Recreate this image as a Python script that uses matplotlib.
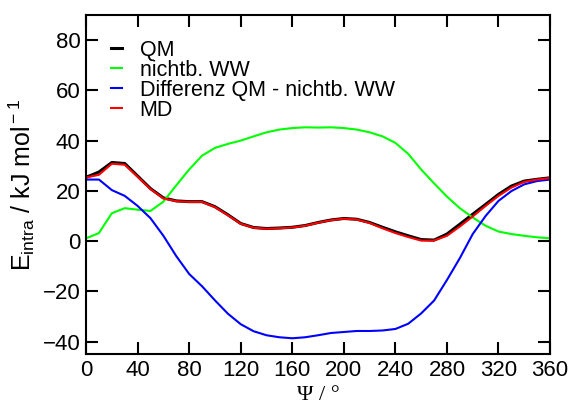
import matplotlib
matplotlib.use("Agg")
import matplotlib.pyplot as plt

plt.rcParams['font.family'] = ['Liberation Sans', 'DejaVu Sans']
plt.rcParams['mathtext.fontset'] = 'custom'
plt.rcParams['mathtext.rm'] = 'Liberation Sans'
plt.rcParams['mathtext.it'] = 'Liberation Sans'

# dihedral angle psi in degrees, 10 degree steps
psi = list(range(0, 361, 10))

qm = [25.4, 27.5, 31.3, 30.9, 25.9, 20.9, 17.2, 16.0, 15.7, 15.7,
      13.7, 10.5, 7.0, 5.4, 5.0, 5.2, 5.5, 6.2, 7.4, 8.4,
      9.0, 8.7, 7.4, 5.5, 3.7, 2.1, 0.6, 0.4, 2.8, 6.7,
      10.7, 14.6, 18.6, 21.9, 23.9, 24.6, 25.2]

nonbonded = [1.1, 3.2, 11.1, 13.1, 12.5, 12.0, 15.7, 22.2, 28.5, 34.0,
             37.1, 38.7, 40.0, 41.7, 43.3, 44.4, 45.0, 45.3, 45.2, 45.3,
             45.0, 44.4, 43.3, 41.7, 39.1, 34.7, 28.5, 23.0, 17.7, 13.1,
             9.4, 6.1, 3.8, 2.8, 2.1, 1.5, 1.1]

difference = [24.5, 24.5, 20.3, 18.0, 14.0, 9.1, 2.1, -6.0, -13.1, -18.0,
              -23.6, -28.9, -33.1, -35.9, -37.5, -38.3, -38.7, -38.3, -37.5, -36.6,
              -36.2, -35.8, -35.8, -35.6, -35.0, -32.9, -28.8, -23.7, -15.5, -6.8,
              2.8, 10.0, 16.0, 19.9, 22.6, 23.9, 24.5]

md = [25.3, 26.4, 30.8, 30.4, 25.6, 20.7, 17.0, 15.9, 15.6, 15.6,
      13.5, 10.3, 6.9, 5.3, 4.9, 5.1, 5.4, 6.1, 7.3, 8.3,
      8.9, 8.6, 7.2, 5.1, 3.2, 1.6, 0.2, 0.2, 2.1, 5.8,
      9.8, 14.0, 18.0, 21.3, 23.6, 24.5, 25.1]

fig = plt.figure(figsize=(5.7, 4.07), dpi=100)
ax = fig.add_axes([0.151, 0.130, 0.814, 0.833])

ax.plot(psi, qm, color='black', lw=2.2, label='QM')
ax.plot(psi, nonbonded, color='#00ff00', lw=1.5, label='nichtb. WW')
ax.plot(psi, difference, color='#0000ff', lw=1.5, label='Differenz QM - nichtb. WW')
ax.plot(psi, md, color='#ff0000', lw=1.5, label='MD')

ax.set_xlim(0, 360)
ax.set_ylim(-45, 90)
ax.set_xticks(range(0, 361, 40))
ax.set_yticks(range(-40, 81, 20))

for s in ax.spines.values():
    s.set_linewidth(1.5)
ax.tick_params(direction='in', length=8.5, width=1.5, top=True, right=True,
               labelsize=16, pad=4)

ax.set_xlabel('Ψ / °', family='Liberation Serif', fontsize=16, labelpad=4)
ax.set_ylabel(r'E$_{\rm intra}$ / kJ mol$^{\rm -1}$', fontsize=18, labelpad=4)

ax.legend(loc='upper left', bbox_to_anchor=(0.025, 0.965), frameon=False,
          fontsize=15.5, handlelength=0.55, handletextpad=0.8,
          labelspacing=-0.05, borderaxespad=0.2)

fig.savefig('out.png', dpi=100)
